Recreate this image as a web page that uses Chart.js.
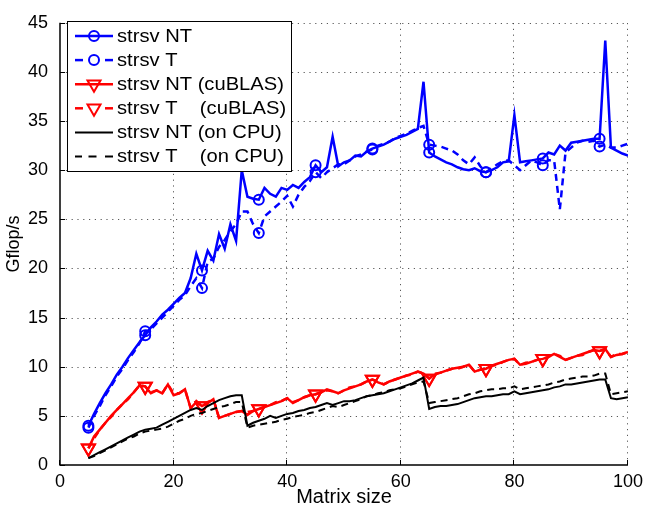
<!DOCTYPE html>
<html><head><meta charset="utf-8">
<script src="https://cdn.jsdelivr.net/npm/chart.js@4.4.0/dist/chart.umd.min.js"></script>
<style>html,body{margin:0;padding:0;background:#fff;}#wrap{width:649px;height:515px;}</style>
</head><body><div id="wrap"><canvas id="c" width="649" height="515"></canvas></div>
<script>
// Matrix sizes (x categories)
const matrixSizes = [
  5,6,7,8,9,10,11,12,13,14,
  15,16,17,18,19,20,21,22,23,24,
  25,26,27,28,29,30,31,32,33,34,
  35,36,37,38,39,40,41,42,43,44,
  45,46,47,48,49,50,51,52,53,54,
  55,56,57,58,59,60,61,62,63,64,
  65,66,67,68,69,70,71,72,73,74,
  75,76,77,78,79,80,81,82,83,84,
  85,86,87,88,89,90,91,92,93,94,
  95,96,97,98,99,100];
const markerSizes = [5,15,25,35,45,55,65,75,85,95];
const xTicks = [0,20,40,60,80,100];
const yTicks = [0,5,10,15,20,25,30,35,40,45];

const strsvNT = [
  4.0,5.2,6.3,7.3,8.2,9.2,10.0,10.9,11.7,12.5,
  13.2,14.0,14.6,15.3,15.8,16.4,17.0,17.5,19.0,21.5,
  19.8,21.8,20.8,23.5,22.0,24.5,22.8,30.0,27.3,27.1,
  27.0,28.2,27.6,27.3,28.2,28.0,28.5,28.2,28.8,29.3,
  30.5,29.8,30.3,33.4,30.4,30.8,31.0,31.5,31.4,31.9,
  32.2,32.4,32.6,32.9,33.2,33.4,33.6,33.9,34.2,39.0,
  31.8,31.4,31.1,30.8,30.6,30.3,30.1,30.0,30.2,29.9,
  29.8,30.0,30.3,30.8,30.9,35.6,30.8,30.9,31.0,31.1,
  31.2,31.8,31.6,32.5,32.0,32.8,32.9,33.0,33.1,33.2,
  33.2,43.2,32.3,32.0,31.7,31.5];
const strsvT = [
  3.8,5.0,6.0,7.1,8.0,9.0,9.8,10.7,11.5,12.4,
  13.6,13.8,14.4,15.0,15.6,16.2,16.8,17.3,18.2,19.0,
  18.0,20.7,21.0,22.2,22.9,23.8,24.5,25.8,25.8,24.5,
  23.6,25.3,25.8,26.3,26.8,27.4,26.3,27.5,28.3,28.9,
  29.8,29.2,29.8,30.2,30.6,30.6,31.0,31.4,31.6,31.9,
  32.1,32.5,32.7,32.9,33.3,33.5,33.7,34.0,34.3,34.5,
  32.6,32.5,32.4,32.2,32.0,31.6,31.0,30.6,31.3,30.4,
  29.8,30.2,30.6,30.9,31.0,30.5,30.0,30.5,31.0,30.8,
  30.5,31.0,31.0,26.0,31.8,32.3,32.8,33.0,32.9,33.0,
  32.4,32.6,32.3,32.3,32.5,32.7];
const cublasNT = [
  1.7,2.9,3.6,4.3,5.0,5.6,6.2,6.8,7.4,8.1,
  8.0,7.3,7.6,7.3,8.2,7.1,7.3,7.7,5.8,6.4,
  6.0,6.3,6.7,4.8,5.0,5.2,5.4,5.5,5.1,5.5,
  5.7,5.9,6.1,6.3,6.5,6.8,6.3,6.6,6.9,7.1,
  7.2,7.4,7.7,7.5,7.3,7.6,7.8,8.0,8.2,8.5,
  8.7,8.4,8.2,8.5,8.7,8.9,9.1,9.3,9.5,9.3,
  8.8,9.2,9.4,9.6,9.8,9.9,10.0,10.2,9.5,9.7,
  9.8,10.1,10.3,10.5,10.7,10.8,10.2,10.3,10.5,10.7,
  10.8,11.0,11.3,11.0,10.7,10.9,11.1,11.3,11.5,11.7,
  11.6,11.8,11.0,11.2,11.3,11.5];
const cublasT = [
  1.7,2.7,3.6,4.3,4.9,5.6,6.2,6.7,7.4,8.1,
  8.0,7.4,7.6,7.3,8.2,7.3,7.3,7.7,5.8,6.5,
  6.0,6.4,6.7,4.8,5.0,5.2,5.4,5.5,5.4,5.5,
  5.7,5.9,6.1,6.4,6.5,6.8,6.4,6.6,6.9,7.1,
  7.2,7.4,7.6,7.5,7.3,7.6,7.9,8.0,8.2,8.5,
  8.7,8.5,8.2,8.5,8.7,8.9,9.1,9.2,9.5,9.3,
  8.8,9.3,9.4,9.6,9.8,9.8,10.0,10.2,9.5,9.7,
  9.8,10.1,10.2,10.5,10.7,10.8,10.2,10.4,10.5,10.7,
  10.8,11.0,11.3,11.1,10.7,10.9,11.1,11.2,11.5,11.7,
  11.6,11.8,11.0,11.3,11.3,11.5];
const cpuNT = [
  0.7,1.0,1.3,1.6,1.9,2.2,2.5,2.8,3.1,3.4,
  3.6,3.7,3.8,4.1,4.4,4.7,5.0,5.3,5.6,5.8,
  5.6,6.0,6.3,6.6,6.8,7.0,7.1,7.1,4.0,4.3,
  4.5,4.7,5.0,4.8,5.0,5.2,5.3,5.5,5.6,5.8,
  5.9,6.1,6.3,6.1,6.3,6.5,6.5,6.6,6.8,7.0,
  7.1,7.2,7.3,7.5,7.7,7.9,8.1,8.3,8.6,8.9,
  5.7,5.9,6.0,6.0,6.1,6.2,6.4,6.6,6.8,6.9,
  7.0,7.0,7.1,7.2,7.2,7.5,7.2,7.3,7.4,7.5,
  7.6,7.7,7.9,8.0,8.2,8.2,8.3,8.4,8.5,8.6,
  8.7,8.7,6.8,6.7,6.8,6.9];
const cpuT = [
  0.7,0.9,1.2,1.5,1.8,2.1,2.4,2.7,2.9,3.2,
  3.4,3.5,3.6,3.7,3.9,4.2,4.5,4.7,5.0,5.2,
  5.3,5.5,5.7,5.9,6.0,6.2,6.4,6.4,3.8,4.0,
  4.1,4.2,4.3,4.4,4.6,4.7,4.9,5.0,5.1,5.3,
  5.4,5.6,5.8,6.0,5.9,6.1,6.3,6.5,6.7,7.0,
  7.1,7.3,7.4,7.6,7.7,7.8,8.0,8.2,8.4,8.5,
  6.3,6.4,6.5,6.6,6.7,6.8,7.0,7.2,7.3,7.5,
  7.6,7.7,7.7,7.8,7.8,8.0,7.7,7.8,7.9,8.0,
  8.1,8.2,8.4,8.5,8.7,8.8,8.9,9.0,9.0,9.1,
  9.3,9.3,7.2,7.3,7.4,7.5];

const labels = ['strsv NT','strsv T','strsv NT (cuBLAS)','strsv T    (cuBLAS)','strsv NT (on CPU)','strsv T    (on CPU)'];

const FONT = 'Liberation Sans, Arial, Helvetica, sans-serif';
const DASH = [7,5];

function pts(vals){ return matrixSizes.map((s,i)=>({x:s,y:vals[i]})); }
function mk(r){ return ctx => markerSizes.includes(matrixSizes[ctx.dataIndex]) ? r : 0; }

const series = [
  {label:labels[0], data:pts(strsvNT), color:'#0000ff', dash:[], marker:'circle', r:5, w:2.5, order:6},
  {label:labels[1], data:pts(strsvT), color:'#0000ff', dash:DASH, marker:'circle', r:5, w:2.5, order:5},
  {label:labels[2], data:pts(cublasNT), color:'#ff0000', dash:[], marker:'triangle', r:7.5, w:2.5, order:4},
  {label:labels[3], data:pts(cublasT), color:'#ff0000', dash:DASH, marker:'triangle', r:7.5, w:2.5, order:3},
  {label:labels[4], data:pts(cpuNT), color:'#000000', dash:[], marker:null, r:0, w:2, order:2},
  {label:labels[5], data:pts(cpuT), color:'#000000', dash:DASH, marker:null, r:0, w:2, order:1}
];

const datasets = series.map(s => ({
  label: s.label,
  data: s.data,
  borderColor: s.color,
  borderWidth: s.w,
  borderDash: s.dash,
  fill: false,
  tension: 0,
  order: s.order,
  pointStyle: s.marker || 'circle',
  rotation: s.marker === 'triangle' ? 180 : 0,
  pointRadius: s.marker ? mk(s.r) : 0,
  pointBorderColor: s.color,
  pointBackgroundColor: 'rgba(0,0,0,0)',
  pointBorderWidth: 2
}));

const gridPlugin = {
  id: 'dotgrid',
  beforeDatasetsDraw(chart) {
    const {ctx, chartArea: a, scales: {x, y}} = chart;
    ctx.save();
    ctx.strokeStyle = 'rgba(60,60,60,0.85)';
    ctx.lineWidth = 1;
    ctx.setLineDash([1.2, 4.6]);
    xTicks.forEach(v => {
      if (v === xTicks[0]) return;
      const px = Math.round(x.getPixelForValue(v)) - 0.5;
      ctx.beginPath(); ctx.moveTo(px, a.bottom); ctx.lineTo(px, a.top); ctx.stroke();
    });
    yTicks.forEach(v => {
      if (v === yTicks[0]) return;
      const py = Math.round(y.getPixelForValue(v)) + 0.5;
      ctx.beginPath(); ctx.moveTo(a.left, py); ctx.lineTo(a.right, py); ctx.stroke();
    });
    ctx.restore();
  }
};

const framePlugin = {
  id: 'frame',
  afterDraw(chart) {
    const {ctx, chartArea: a, scales: {x, y}} = chart;
    ctx.save();
    ctx.strokeStyle = '#000';
    ctx.lineWidth = 1;
    ctx.setLineDash([]);
    xTicks.forEach(v => {
      const px = Math.round(x.getPixelForValue(v)) - 0.5;
      ctx.beginPath(); ctx.moveTo(px, a.bottom); ctx.lineTo(px, a.bottom - 5); ctx.stroke();
    });
    yTicks.forEach(v => {
      const py = Math.round(y.getPixelForValue(v)) + 0.5;
      ctx.beginPath(); ctx.moveTo(a.left, py); ctx.lineTo(a.left + 5, py); ctx.stroke();
    });
    ctx.lineWidth = 1.5;
    ctx.beginPath();
    ctx.moveTo(a.left, a.top); ctx.lineTo(a.left, a.bottom); ctx.lineTo(a.right, a.bottom);
    ctx.stroke();

    // legend box
    const L = 67.5, T = 21.5, R = 291.5, B = 171.5;
    ctx.fillStyle = '#fff';
    ctx.fillRect(L, T, R - L, B - T);
    ctx.lineWidth = 1;
    ctx.strokeStyle = '#000';
    ctx.strokeRect(L, T, R - L, B - T);
    const rowY0 = 36, rowStep = 24.1;
    series.forEach((s, i) => {
      const yy = rowY0 + i * rowStep;
      ctx.strokeStyle = s.color;
      ctx.lineWidth = s.w;
      ctx.setLineDash([]);
      const segs = s.dash.length
        ? (s.marker ? [[75,83],[105,113]] : [[75,82],[88.5,96.5],[105,113]])
        : [[75,113]];
      segs.forEach(([x0,x1]) => { ctx.beginPath(); ctx.moveTo(x0, yy); ctx.lineTo(x1, yy); ctx.stroke(); });
      if (s.marker) {
        ctx.lineWidth = 2;
        const cx = 94;
        if (s.marker === 'circle') {
          ctx.beginPath(); ctx.arc(cx, yy, s.r, 0, Math.PI*2); ctx.stroke();
        } else {
          const r = s.r;
          ctx.beginPath();
          ctx.moveTo(cx, yy + r);
          ctx.lineTo(cx - r*0.866, yy - r*0.5);
          ctx.lineTo(cx + r*0.866, yy - r*0.5);
          ctx.closePath(); ctx.stroke();
        }
      }
      ctx.fillStyle = '#000';
      ctx.font = '18px ' + FONT;
      ctx.textBaseline = 'middle';
      ctx.textAlign = 'left';
      ctx.save();
      ctx.translate(117, yy + 1);
      ctx.scale(1.12, 1);
      ctx.fillText(s.label, 0, 0);
      ctx.restore();
    });
    ctx.restore();
  }
};

new Chart(document.getElementById('c'), {
  type: 'line',
  data: { datasets },
  options: {
    responsive: false,
    devicePixelRatio: 1,
    animation: false,
    events: [],
    layout: { padding: { top: 15, right: 16, bottom: 0, left: 0 } },
    plugins: { legend: { display: false }, tooltip: { enabled: false } },
    scales: {
      x: {
        type: 'linear', min: 0, max: 100,
        afterBuildTicks: s => { s.ticks = xTicks.map(v => ({value: v})); },
        afterFit: s => { s.height = 50; },
        grid: { display: false, drawTicks: false, tickLength: 0 },
        border: { display: false },
        ticks: { color: '#000', padding: 6, font: { family: FONT, size: 18 }, maxRotation: 0 },
        title: { display: true, text: 'Matrix size', color: '#000', font: { family: FONT, size: 20 }, padding: { top: 0, bottom: 6 } }
      },
      y: {
        type: 'linear', min: 0, max: 45,
        afterBuildTicks: s => { s.ticks = yTicks.map(v => ({value: v})); },
        afterFit: s => { s.width = 60; },
        grid: { display: false, drawTicks: false, tickLength: 0 },
        border: { display: false },
        ticks: { color: '#000', padding: 12, font: { family: FONT, size: 18 } },
        title: { display: true, text: 'Gflop/s', color: '#000', font: { family: FONT, size: 18 }, padding: { top: 3, bottom: 0 } }
      }
    }
  },
  plugins: [gridPlugin, framePlugin]
});
</script>
</body></html>
